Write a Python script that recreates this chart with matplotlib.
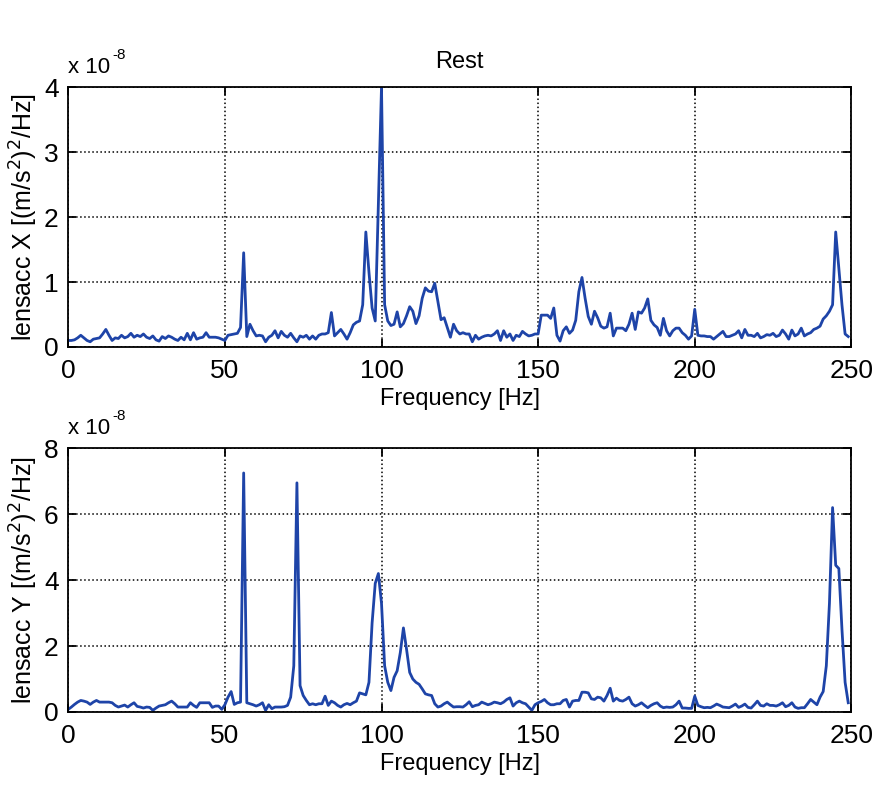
import numpy as np
import matplotlib.pyplot as plt

plt.rcParams['font.family'] = ['Liberation Sans', 'DejaVu Sans']

# frequency axis, 1 Hz steps
freq = np.arange(0, 250)

# PSD lens accelerometer X, units of 1e-8 (m/s^2)^2/Hz
psd_x = [
    0.10, 0.10, 0.11, 0.14, 0.18, 0.14, 0.10, 0.08, 0.12, 0.13,
    0.14, 0.20, 0.27, 0.18, 0.10, 0.14, 0.13, 0.18, 0.14, 0.16,
    0.21, 0.15, 0.18, 0.16, 0.20, 0.15, 0.13, 0.17, 0.11, 0.09,
    0.16, 0.13, 0.17, 0.15, 0.12, 0.10, 0.15, 0.11, 0.21, 0.11,
    0.22, 0.12, 0.14, 0.15, 0.22, 0.15, 0.15, 0.15, 0.14, 0.12,
    0.10, 0.18, 0.19, 0.20, 0.21, 0.30, 1.45, 0.16, 0.35, 0.25,
    0.17, 0.18, 0.17, 0.08, 0.15, 0.18, 0.25, 0.14, 0.24, 0.18,
    0.15, 0.21, 0.14, 0.08, 0.17, 0.15, 0.18, 0.12, 0.17, 0.12,
    0.18, 0.20, 0.20, 0.22, 0.53, 0.17, 0.22, 0.27, 0.20, 0.12,
    0.22, 0.34, 0.38, 0.40, 0.65, 1.77, 1.15, 0.60, 0.40, 2.20,
    4.00, 0.65, 0.40, 0.33, 0.35, 0.54, 0.31, 0.36, 0.48, 0.62,
    0.55, 0.36, 0.48, 0.75, 0.91, 0.86, 0.85, 0.98, 0.70, 0.42,
    0.45, 0.30, 0.15, 0.35, 0.25, 0.20, 0.22, 0.20, 0.20, 0.08,
    0.18, 0.12, 0.15, 0.17, 0.18, 0.17, 0.20, 0.25, 0.10, 0.25,
    0.15, 0.20, 0.10, 0.18, 0.16, 0.24, 0.20, 0.17, 0.18, 0.20,
    0.20, 0.49, 0.49, 0.49, 0.44, 0.60, 0.18, 0.09, 0.25, 0.31,
    0.21, 0.26, 0.41, 0.85, 1.07, 0.75, 0.47, 0.35, 0.55, 0.45,
    0.32, 0.29, 0.31, 0.52, 0.17, 0.29, 0.29, 0.29, 0.25, 0.35,
    0.52, 0.27, 0.54, 0.52, 0.60, 0.74, 0.41, 0.34, 0.30, 0.18,
    0.44, 0.25, 0.17, 0.25, 0.29, 0.29, 0.22, 0.18, 0.12, 0.17,
    0.58, 0.18, 0.17, 0.17, 0.16, 0.16, 0.12, 0.16, 0.20, 0.24,
    0.16, 0.16, 0.18, 0.20, 0.25, 0.14, 0.27, 0.18, 0.18, 0.16,
    0.21, 0.14, 0.16, 0.19, 0.18, 0.21, 0.16, 0.18, 0.26, 0.20,
    0.12, 0.26, 0.17, 0.20, 0.29, 0.17, 0.20, 0.22, 0.27, 0.29,
    0.32, 0.43, 0.48, 0.55, 0.65, 1.77, 1.20, 0.65, 0.20, 0.16,
]

# PSD lens accelerometer Y, units of 1e-8 (m/s^2)^2/Hz
psd_y = [
    0.08, 0.15, 0.23, 0.30, 0.35, 0.33, 0.30, 0.23, 0.30, 0.35,
    0.30, 0.30, 0.30, 0.30, 0.28, 0.20, 0.15, 0.18, 0.21, 0.15,
    0.22, 0.28, 0.17, 0.15, 0.12, 0.15, 0.14, 0.05, 0.12, 0.18,
    0.20, 0.22, 0.28, 0.33, 0.25, 0.15, 0.15, 0.15, 0.15, 0.28,
    0.20, 0.14, 0.28, 0.28, 0.28, 0.28, 0.14, 0.18, 0.18, 0.08,
    0.22, 0.45, 0.62, 0.23, 0.28, 0.30, 7.25, 0.28, 0.25, 0.22,
    0.18, 0.22, 0.28, 0.05, 0.22, 0.10, 0.15, 0.15, 0.15, 0.16,
    0.20, 0.45, 1.40, 6.95, 0.80, 0.50, 0.35, 0.22, 0.25, 0.22,
    0.25, 0.25, 0.48, 0.20, 0.33, 0.28, 0.20, 0.15, 0.22, 0.26,
    0.22, 0.28, 0.33, 0.58, 0.55, 0.52, 0.90, 2.70, 3.90, 4.20,
    3.30, 1.40, 0.90, 0.65, 1.05, 1.25, 1.80, 2.55, 1.90, 1.20,
    1.00, 0.90, 0.84, 0.70, 0.55, 0.52, 0.50, 0.25, 0.15, 0.18,
    0.25, 0.30, 0.22, 0.15, 0.16, 0.16, 0.15, 0.22, 0.31, 0.16,
    0.20, 0.22, 0.30, 0.26, 0.22, 0.25, 0.30, 0.28, 0.25, 0.30,
    0.38, 0.43, 0.18, 0.28, 0.33, 0.28, 0.25, 0.15, 0.05, 0.22,
    0.28, 0.32, 0.38, 0.28, 0.22, 0.22, 0.25, 0.25, 0.35, 0.38,
    0.15, 0.33, 0.35, 0.35, 0.60, 0.60, 0.58, 0.40, 0.38, 0.45,
    0.43, 0.33, 0.50, 0.72, 0.33, 0.42, 0.35, 0.33, 0.38, 0.45,
    0.25, 0.18, 0.22, 0.28, 0.20, 0.13, 0.20, 0.25, 0.28, 0.18,
    0.13, 0.15, 0.14, 0.15, 0.22, 0.33, 0.12, 0.12, 0.11, 0.11,
    0.48, 0.20, 0.16, 0.13, 0.14, 0.13, 0.18, 0.24, 0.20, 0.15,
    0.14, 0.13, 0.18, 0.24, 0.14, 0.18, 0.24, 0.14, 0.12, 0.22,
    0.33, 0.20, 0.18, 0.25, 0.20, 0.20, 0.18, 0.22, 0.28, 0.16,
    0.20, 0.28, 0.15, 0.11, 0.13, 0.13, 0.25, 0.38, 0.30, 0.22,
    0.45, 0.62, 1.40, 3.30, 6.20, 4.45, 4.35, 2.50, 0.90, 0.28,
]

x_ticks = [0, 50, 100, 150, 200, 250]
ylabels = ['lensacc X [(m/s$^2$)$^2$/Hz]', 'lensacc Y [(m/s$^2$)$^2$/Hz]']
y_limits = [4, 8]
y_steps = [1, 2]

fig = plt.figure(figsize=(8.75, 7.85), dpi=100)
ax1 = fig.add_axes([0.078, 0.558, 0.895, 0.331])
ax2 = fig.add_axes([0.078, 0.093, 0.895, 0.336])

line_col = '#1e44a8'
for ax, data, lab, ymax, step in zip([ax1, ax2], [psd_x, psd_y], ylabels, y_limits, y_steps):
    ax.plot(freq, data, color=line_col, linewidth=2.0)
    ax.set_xlim(0, 250)
    ax.set_ylim(0, ymax)
    ax.set_xticks(x_ticks)
    ax.set_yticks(np.arange(0, ymax + step, step))
    ax.grid(True, color='black', linestyle=':', linewidth=1.1)
    ax.tick_params(direction='in', top=True, right=True, labelsize=19, length=6, width=1.3)
    ax.tick_params(axis='x', pad=9)
    ax.tick_params(axis='y', pad=7)
    for s in ax.spines.values():
        s.set_linewidth(1.3)
    ax.set_xlabel('Frequency [Hz]', fontsize=17, labelpad=3)
    ax.set_ylabel(lab, fontsize=18, labelpad=3)
    # MATLAB-style exponent label
    ax.text(0.0, 1.035, 'x 10', transform=ax.transAxes, fontsize=16, ha='left', va='bottom')
    ax.text(0.056, 1.095, '-8', transform=ax.transAxes, fontsize=11, ha='left', va='bottom')

ax1.set_title('Rest', fontsize=17, pad=14)

plt.savefig('out.png', dpi=100)
